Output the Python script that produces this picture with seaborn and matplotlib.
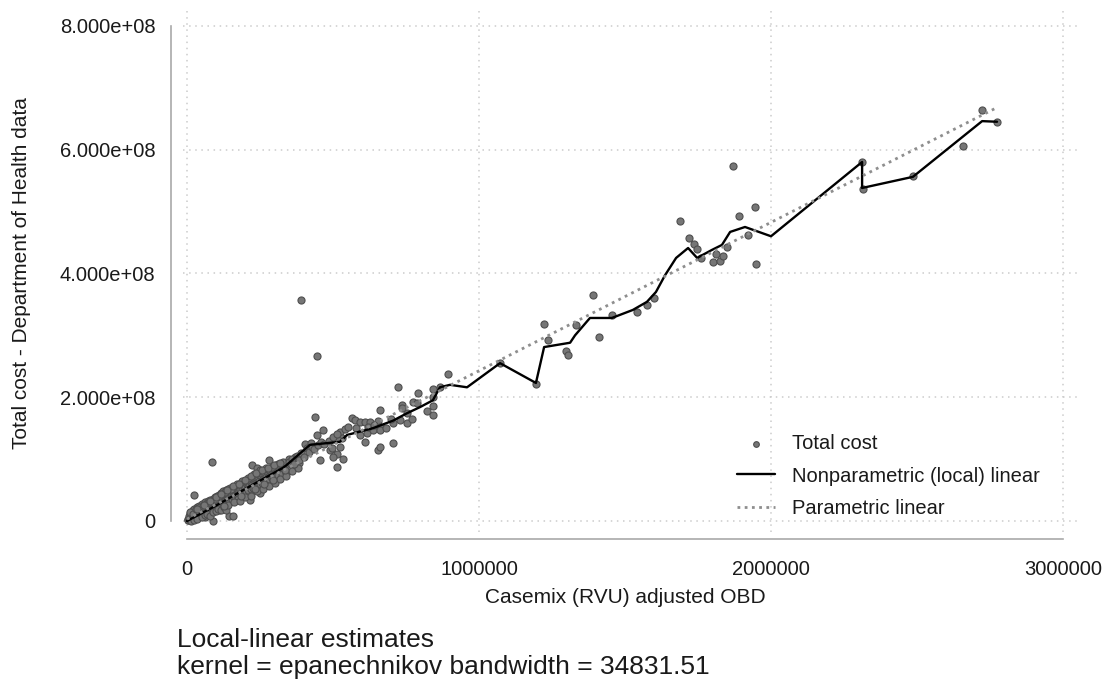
import matplotlib
matplotlib.use("Agg")
import matplotlib.pyplot as plt
import seaborn as sns
import pandas as pd

# ---------------- data ----------------
# dense cluster of small units (OBD in thousands, total cost in millions)
blob_obd_k = [2, 3, 5, 6, 8, 9, 10, 12, 14, 15, 16, 18, 20, 21, 22, 24, 25, 27, 28, 30,
              31, 33, 35, 36, 38, 40, 41, 43, 45, 46, 48, 50, 52, 53, 55, 57, 58, 60, 62, 63,
              65, 67, 68, 70, 72, 73, 75, 77, 78, 80, 82, 83, 85, 87, 88, 90, 92, 94, 95, 97,
              99, 100, 102, 104, 105, 107, 109, 110, 112, 114, 115, 117, 119, 120, 122, 124, 125, 127, 129, 130,
              132, 134, 135, 137, 139, 140, 142, 144, 145, 147, 149, 150, 152, 154, 155, 157, 159, 160, 162, 164,
              165, 167, 169, 170, 172, 174, 175, 177, 179, 180, 182, 184, 186, 188, 190, 192, 194, 196, 198, 200,
              202, 204, 206, 208, 210, 212, 214, 216, 218, 220, 222, 224, 226, 228, 230, 232, 234, 236, 238, 240,
              242, 244, 246, 248, 250, 252, 254, 256, 258, 260, 262, 264, 266, 268, 270, 272, 274, 276, 278, 280,
              282, 284, 286, 288, 290, 292, 295, 298, 300, 303, 306, 309, 312, 315, 318, 321, 324, 327, 330, 334,
              338, 342, 346, 350, 355, 360, 366, 372, 378, 385,
              24, 85, 90, 145, 156, 221, 239, 216, 281, 60, 110, 175, 250]
blob_cost_m = [1, 4, 2, 8, 3, 12, 5, 9, 2, 14, 6, 10, 17, 4, 8, 13, 20, 6, 11, 16,
               9, 22, 12, 7, 18, 14, 25, 10, 16, 21, 12, 27, 15, 19, 10, 24, 17, 30, 14, 21,
               26, 18, 12, 23, 32, 19, 28, 15, 22, 34, 25, 18, 30, 22, 36, 27, 20, 31, 38, 25,
               33, 28, 22, 40, 30, 35, 26, 42, 32, 28, 38, 45, 33, 30, 40, 48, 35, 29, 43, 38,
               50, 34, 44, 40, 52, 36, 46, 31, 42, 54, 39, 48, 44, 36, 52, 46, 40, 55, 48, 42,
               38, 53, 46, 58, 44, 50, 40, 56, 48, 60, 52, 45, 58, 50, 62, 44, 55, 49, 64, 53,
               47, 60, 66, 55, 50, 62, 57, 68, 52, 63, 70, 58, 54, 66, 72, 61, 56, 68, 74, 63,
               59, 70, 76, 65, 60, 72, 78, 67, 62, 74, 80, 69, 64, 76, 82, 71, 66, 78, 84, 73,
               68, 80, 86, 75, 70, 82, 88, 77, 72, 84, 90, 79, 74, 86, 92, 81, 76, 88, 94, 83,
               78, 90, 96, 85, 92, 98, 88, 96, 102, 94,
               42, 96, 0, 8, 8, 90, 85, 34, 98, 6, 18, 35, 45]

# outer edge of the dense cluster
edge_obd_k = [10, 15, 20, 25, 30, 35, 40, 45, 50, 55, 60, 65, 70, 75, 80, 85, 90, 95, 100, 105,
              110, 115, 120, 125, 130, 135, 140, 150, 160, 170, 180, 190, 200, 210, 220, 230, 240, 250,
              260, 270, 280, 290, 300, 310, 320, 330, 340, 350, 360, 370, 380,
              35, 58, 78, 98, 118, 138, 158, 178, 198, 218, 238, 258, 278, 298, 318,
              128, 186, 232, 264, 296, 336]
edge_cost_m = [14, 0, 12, 1, 20, 4, 15, 22, 6, 25, 9, 28, 12, 30, 8, 33, 14, 36, 16, 20,
               40, 17, 44, 22, 47, 18, 26, 52, 30, 60, 33, 64, 38, 70, 40, 76, 48, 82,
               52, 85, 56, 88, 62, 92, 68, 95, 72, 100, 80, 104, 86,
               20, 26, 32, 38, 44, 50, 56, 60, 66, 72, 78, 82, 86, 90, 94,
               24, 40, 52, 60, 66, 82]

# medium-sized units
mid_obd_k = [390, 446, 439, 444, 465, 405, 424, 455, 513, 501, 533, 513, 490, 495, 524, 530, 524, 513,
             564, 575, 592, 610, 627, 655, 592, 615, 638, 610, 661, 661, 661, 655, 661, 704, 724, 707,
             729, 735, 752, 772, 775, 787, 790, 821, 844, 844, 844, 866, 844, 752, 735,
             350, 360, 368, 375, 382, 392, 400, 410, 418, 428, 436, 448, 458, 470, 485, 500, 512, 540,
             552, 580, 620, 640, 680, 700]
mid_cost_m = [357, 267, 168, 139, 147, 124, 126, 98, 109, 104, 100, 87, 115, 118, 144, 134, 120, 134,
              166, 163, 160, 160, 160, 162, 139, 142, 147, 128, 180, 152, 147, 115, 120, 126, 216, 158,
              163, 187, 159, 164, 193, 191, 206, 177, 185, 171, 201, 217, 214, 174, 182,
              95, 100, 92, 105, 98, 110, 104, 118, 112, 120, 116, 122, 128, 125, 130, 136, 140, 148,
              152, 150, 152, 155, 150, 165]

# large units
big_obd_k = [895, 1072, 1195, 1223, 1237, 1298, 1306, 1331, 1390, 1411, 1457, 1540, 1576, 1600,
             1690, 1720, 1735, 1745, 1760, 1800, 1812, 1825, 1835, 1850, 1870, 1890, 1920, 1945,
             1948, 2311, 2314, 2487, 2656, 2721, 2773]
big_cost_m = [237, 255, 222, 318, 293, 275, 268, 317, 365, 297, 333, 338, 349, 360,
              485, 457, 447, 440, 425, 418, 432, 420, 428, 443, 573, 493, 462, 508,
              415, 580, 537, 557, 606, 664, 644]

# nonparametric (local-linear) fit
np_obd_k = [0, 100, 200, 329, 340, 421, 524, 548, 637, 705, 753, 798, 842, 866, 901, 959,
            1072, 1195, 1223, 1312, 1329, 1380, 1455, 1527, 1575, 1606, 1637, 1675, 1716, 1747,
            1798, 1832, 1860, 1911, 2000, 2312, 2312, 2486, 2723, 2774]
np_cost_m = [0, 25, 52, 86, 90, 123, 128, 139, 150, 162, 174, 184, 195, 216, 220, 216,
             255, 223, 281, 288, 300, 328, 328, 341, 354, 370, 397, 425, 441, 425,
             438, 446, 467, 475, 460, 580, 538, 556, 646, 645]

# parametric linear fit, end points
par_obd_k = [0, 2774]
par_cost_m = [3, 668]

x_ticks = [0, 1000000, 2000000, 3000000]
x_tick_labels = ["0", "1000000", "2000000", "3000000"]
y_ticks = [0, 2e8, 4e8, 6e8, 8e8]
y_tick_labels = ["0", "2.000e+08", "4.000e+08", "6.000e+08", "8.000e+08"]

x_label = "Casemix (RVU) adjusted OBD"
y_label = "Total cost - Department of Health data"
legend_labels = ["Total cost", "Nonparametric (local) linear", "Parametric linear"]
note_lines = ["Local-linear estimates", "kernel = epanechnikov bandwidth = 34831.51"]

# ---------------- frames ----------------
scatter_df = pd.DataFrame({
    "obd": [v * 1e3 for v in blob_obd_k + edge_obd_k + mid_obd_k + big_obd_k],
    "cost": [v * 1e6 for v in blob_cost_m + edge_cost_m + mid_cost_m + big_cost_m],
})
np_df = pd.DataFrame({"obd": [v * 1e3 for v in np_obd_k], "cost": [v * 1e6 for v in np_cost_m]})
par_df = pd.DataFrame({"obd": [v * 1e3 for v in par_obd_k], "cost": [v * 1e6 for v in par_cost_m]})

# ---------------- style ----------------
sns.set_theme(style="white")
plt.rcParams["font.family"] = ["Liberation Sans", "DejaVu Sans"]

W, H = 1108, 682
fig = plt.figure(figsize=(W / 100, H / 100), dpi=100, facecolor="white")
L, R, T, B = 183, 1077, 10, 532
ax = fig.add_axes([L / W, 1 - B / H, (R - L) / W, (B - T) / H])

grey_pt = "#767676"
sns.scatterplot(data=scatter_df, x="obd", y="cost", ax=ax, color=grey_pt,
                edgecolor="#4e4e4e", linewidth=0.8, s=26, zorder=2, label=legend_labels[0])
sns.lineplot(data=np_df, x="obd", y="cost", ax=ax, sort=False, estimator=None,
             color="black", linewidth=1.7, zorder=3, label=legend_labels[1])
sns.lineplot(data=par_df, x="obd", y="cost", ax=ax, sort=False, estimator=None,
             color="#8e8e8e", linewidth=2.0, linestyle=(0, (1.0, 1.6)), zorder=4,
             label=legend_labels[2])

ax.set_xlim((L - 187) / 292e-6, (R - 187) / 292e-6)
ax.set_ylim((521 - B) / 61.9 * 1e8, (521 - T) / 61.9 * 1e8)

ax.set_xticks(x_ticks)
ax.set_xticklabels(x_tick_labels)
ax.set_yticks(y_ticks)
ax.set_yticklabels(y_tick_labels)

spine_c = "#a9a9a9"
for s in ["top", "right"]:
    ax.spines[s].set_visible(False)
ax.spines["left"].set_position(("outward", 8.6))
ax.spines["left"].set_bounds(0, 8e8)
ax.spines["bottom"].set_position(("outward", 5))
ax.spines["bottom"].set_bounds(0, 3e6)
for s in ["left", "bottom"]:
    ax.spines[s].set_color(spine_c)
    ax.spines[s].set_linewidth(1.2)

ax.tick_params(axis="both", direction="out", length=7, width=1.2, color=spine_c,
               labelsize=14.5, labelcolor="#1a1a1a")
ax.tick_params(axis="y", pad=4.3)
ax.tick_params(axis="x", pad=8)

ax.grid(True, linestyle=(0, (1, 3)), color="#cccccc", linewidth=1.1)
ax.set_axisbelow(True)

ax.set_xlabel(x_label, fontsize=15, color="#1a1a1a")
ax.set_ylabel(y_label, fontsize=15, color="#1a1a1a")
ax.xaxis.set_label_coords((625 - L) / (R - L), (B - 588) / (B - T))
ax.yaxis.set_label_coords((31 - L) / (R - L), (B - 273) / (B - T))

leg = ax.legend(loc="center left", bbox_to_anchor=(737 / W, 1 - 476 / H),
                bbox_transform=fig.transFigure, frameon=False, fontsize=14.5,
                handlelength=1.9, handletextpad=0.85, labelspacing=0.68,
                borderpad=0, borderaxespad=0, markerscale=0.8)
for t in leg.get_texts():
    t.set_color("#1a1a1a")

fig.text(177 / W, 1 - 640 / H, note_lines[0], fontsize=19, va="center", ha="left", color="#1a1a1a")
fig.text(177 / W, 1 - 667 / H, note_lines[1], fontsize=19, va="center", ha="left", color="#1a1a1a")

fig.savefig("out.png", dpi=100, facecolor="white")
